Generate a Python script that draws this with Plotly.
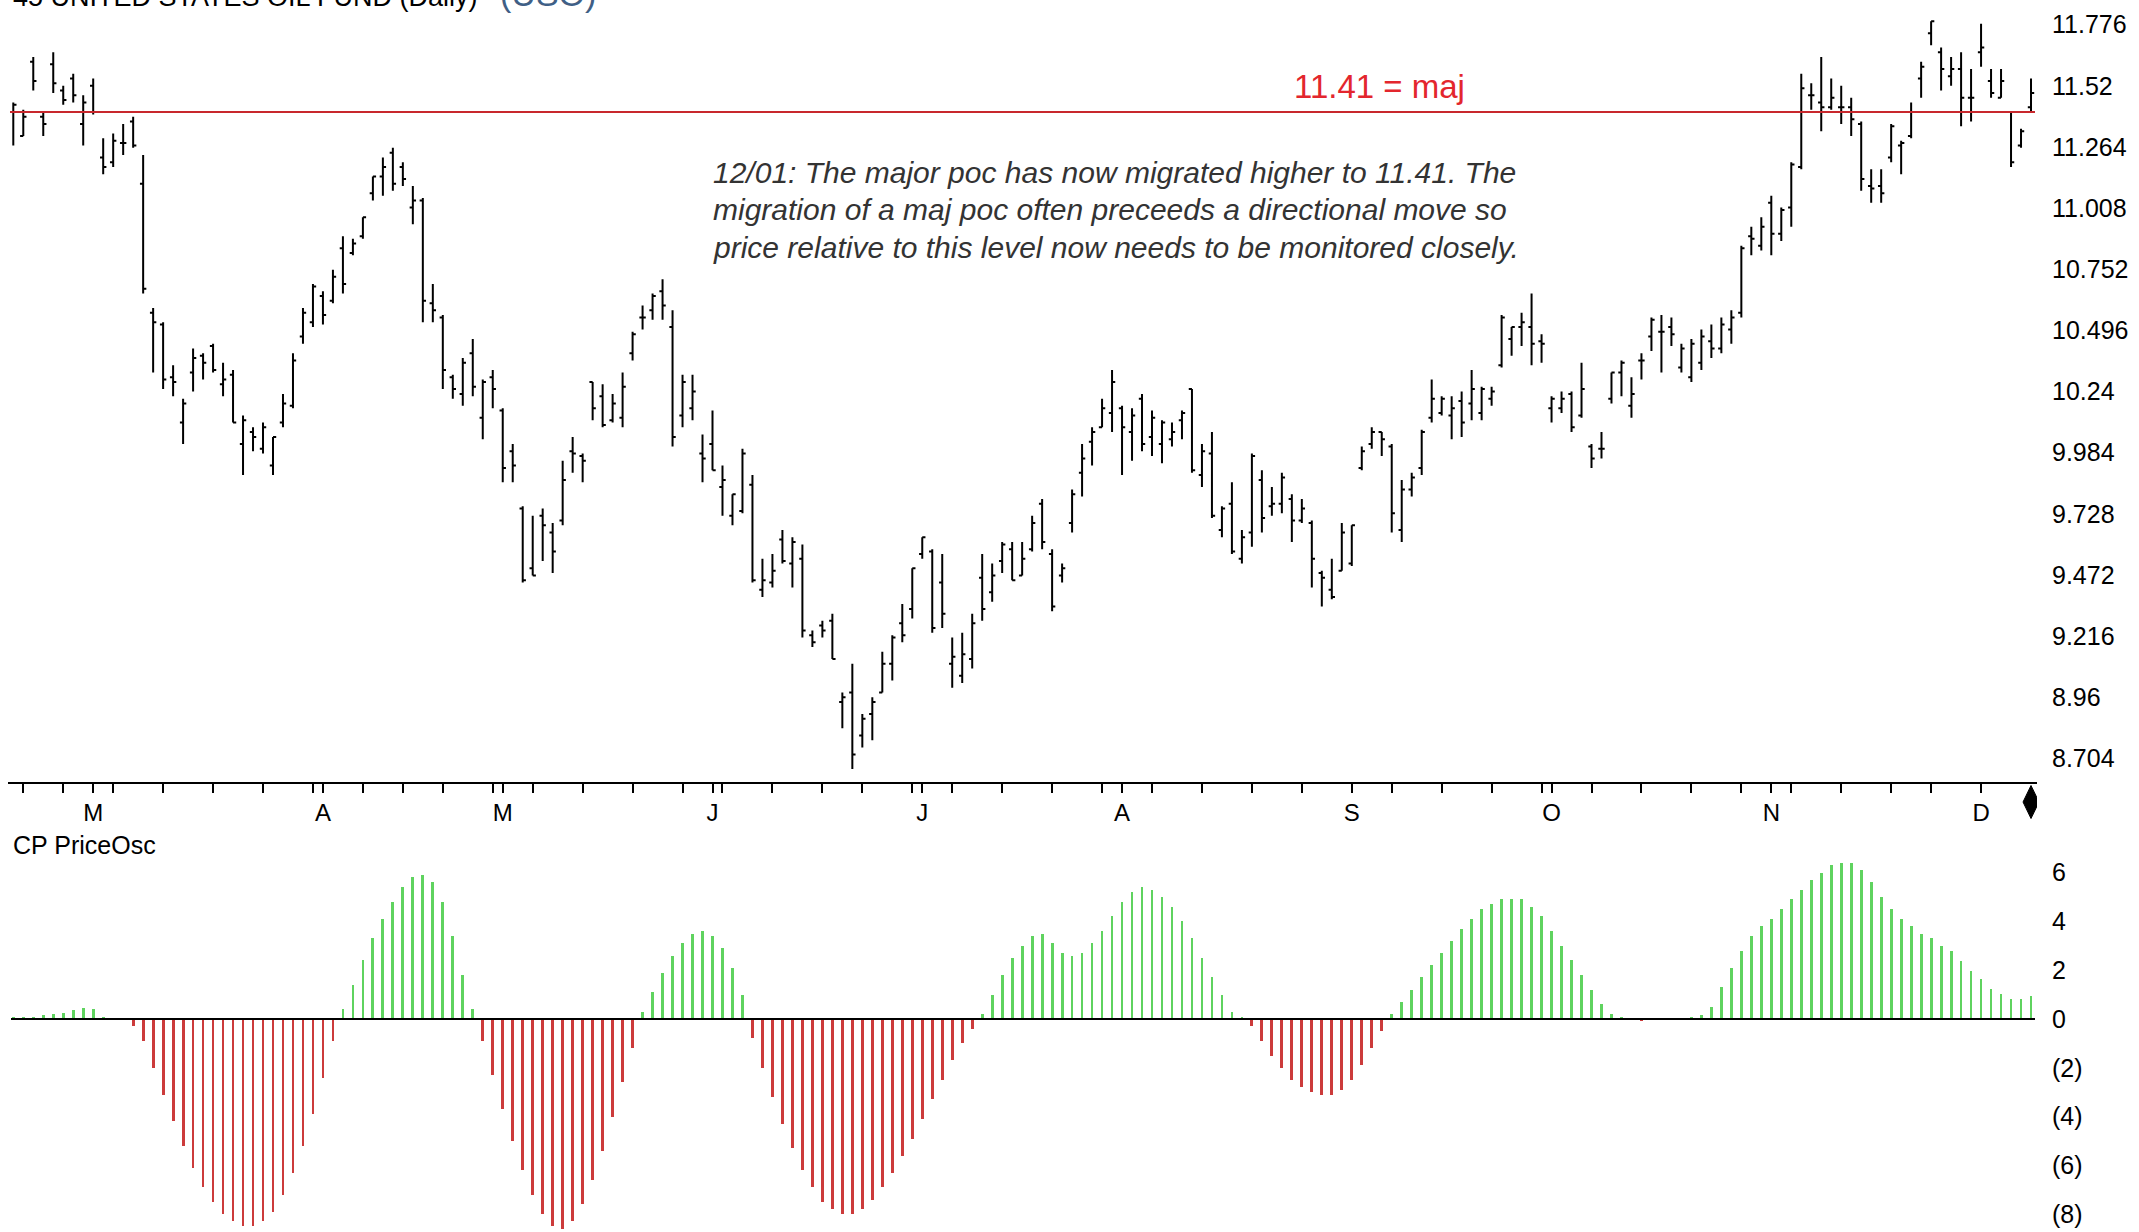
import plotly.graph_objects as go

# ---------------- data ----------------
opens = [11.41,11.31,11.62,11.39,11.61,11.50,11.55,11.36,11.52,11.22,
         11.20,11.28,11.37,11.11,10.57,10.52,10.30,10.11,10.32,10.39,
         10.43,10.27,10.31,10.02,10.07,10.00,9.93,10.11,10.18,10.47,
         10.53,10.64,10.62,10.84,10.82,10.89,11.07,11.14,11.24,11.18,
         11.01,11.04,10.61,10.55,10.30,10.23,10.40,10.13,10.30,10.16,
         9.99,9.75,9.50,9.72,9.65,9.70,9.99,9.97,10.28,10.22,
         10.12,10.13,10.40,10.55,10.58,10.66,10.51,10.14,10.17,9.98,
         10.02,9.84,9.72,9.74,9.85,9.41,9.44,9.62,9.52,9.54,
         9.22,9.26,9.28,8.94,8.98,8.80,8.89,8.98,9.10,9.27,
         9.33,9.56,9.57,9.44,9.10,9.05,9.12,9.46,9.40,9.53,
         9.58,9.47,9.58,9.77,9.56,9.47,9.69,9.90,10.03,10.09,
         10.15,10.17,10.07,10.21,10.05,10.02,10.04,10.12,10.25,9.89,
         9.98,9.66,9.77,9.54,9.65,9.87,9.76,9.77,9.79,9.70,
         9.69,9.48,9.41,9.49,9.52,9.92,10.02,10.07,10.01,9.66,
         9.83,9.92,10.13,10.15,10.14,10.20,10.19,10.15,10.21,10.35,
         10.46,10.51,10.51,10.45,10.17,10.17,10.23,10.14,10.01,10.00,
         10.21,10.32,10.18,10.37,10.47,10.49,10.51,10.34,10.30,
         10.36,10.45,10.42,10.50,
         10.57,10.89,10.85,11.03,10.90,11.01,11.18,11.48,11.45,11.43,
         11.43,11.43,11.36,11.10,11.10,11.22,11.27,11.31,11.55,11.74,
         11.66,11.56,11.59,11.47,11.66,11.54,11.47,11.41,11.27,11.43]

highs = [11.45,11.42,11.64,11.41,11.66,11.52,11.57,11.48,11.55,11.30,
         11.32,11.36,11.39,11.23,10.59,10.53,10.35,10.21,10.42,10.40,
         10.44,10.36,10.33,10.14,10.09,10.11,10.05,10.23,10.40,10.59,
         10.69,10.66,10.75,10.89,10.88,10.97,11.14,11.22,11.26,11.20,
         11.10,11.05,10.69,10.56,10.31,10.38,10.46,10.29,10.33,10.17,
         10.02,9.76,9.72,9.75,9.69,9.95,10.05,9.98,10.28,10.27,
         10.23,10.32,10.49,10.60,10.65,10.71,10.58,10.31,10.31,10.06,
         10.16,9.93,9.81,10.00,9.89,9.54,9.56,9.66,9.63,9.60,
         9.24,9.28,9.31,8.98,9.10,8.89,8.96,9.15,9.22,9.35,
         9.50,9.63,9.58,9.56,9.21,9.23,9.31,9.56,9.52,9.61,
         9.61,9.61,9.72,9.79,9.58,9.52,9.83,10.02,10.09,10.21,
         10.33,10.18,10.17,10.23,10.16,10.12,10.11,10.16,10.25,10.02,
         10.07,9.76,9.86,9.66,9.98,9.91,9.84,9.90,9.81,9.79,
         9.70,9.49,9.54,9.69,9.68,10.01,10.09,10.07,10.02,9.87,
         9.90,10.08,10.29,10.22,10.22,10.24,10.33,10.26,10.26,10.56,
         10.51,10.57,10.65,10.48,10.22,10.24,10.24,10.36,10.02,10.07,
         10.32,10.37,10.30,10.40,10.55,10.56,10.55,10.44,10.46,
         10.50,10.52,10.55,10.58,
         10.85,10.93,10.97,11.06,11.01,11.20,11.57,11.53,11.64,11.55,
         11.52,11.47,11.37,11.17,11.17,11.36,11.29,11.45,11.62,11.79,
         11.68,11.64,11.66,11.59,11.78,11.59,11.59,11.41,11.34,11.55]

lows = [11.27,11.31,11.50,11.31,11.49,11.44,11.45,11.27,11.40,11.15,
        11.18,11.23,11.26,10.65,10.32,10.25,10.22,10.02,10.24,10.29,
        10.32,10.22,10.11,9.89,9.99,9.98,9.89,10.09,10.17,10.44,
        10.51,10.52,10.61,10.65,10.81,10.88,11.04,11.06,11.08,11.10,
        10.94,10.53,10.53,10.25,10.21,10.18,10.22,10.04,10.17,9.86,
        9.86,9.44,9.47,9.53,9.48,9.68,9.90,9.86,10.12,10.09,
        10.11,10.09,10.37,10.50,10.54,10.54,10.01,10.09,10.12,9.86,
        9.91,9.72,9.68,9.73,9.44,9.38,9.42,9.52,9.42,9.21,
        9.17,9.21,9.12,8.83,8.66,8.75,8.78,8.98,9.03,9.19,
        9.29,9.54,9.23,9.25,9.00,9.02,9.08,9.28,9.36,9.48,
        9.45,9.47,9.57,9.58,9.32,9.44,9.65,9.80,9.93,10.09,
        10.07,9.89,9.95,9.99,9.97,9.94,10.01,10.04,9.90,9.84,
        9.71,9.63,9.56,9.52,9.59,9.65,9.72,9.73,9.61,9.69,
        9.42,9.34,9.37,9.49,9.51,9.91,10.00,9.97,9.65,9.61,
        9.80,9.89,10.11,10.14,10.04,10.05,10.12,10.12,10.18,10.34,
        10.39,10.43,10.35,10.36,10.11,10.15,10.07,10.13,9.92,9.96,
        10.19,10.22,10.13,10.29,10.41,10.32,10.43,10.32,10.28,
        10.33,10.38,10.40,10.44,
        10.55,10.81,10.83,10.81,10.87,10.93,11.17,11.42,11.33,11.42,
        11.36,11.31,11.08,11.03,11.03,11.20,11.15,11.30,11.47,11.69,
        11.50,11.52,11.35,11.37,11.60,11.47,11.47,11.18,11.26,11.41]

closes = [11.44,11.39,11.54,11.36,11.53,11.46,11.48,11.45,11.41,11.18,
          11.29,11.28,11.27,10.67,10.53,10.29,10.28,10.19,10.38,10.36,
          10.33,10.29,10.11,10.12,10.05,10.09,10.05,10.19,10.37,10.57,
          10.68,10.56,10.72,10.69,10.86,10.97,11.14,11.18,11.11,11.13,
          11.04,10.62,10.58,10.33,10.25,10.36,10.26,10.28,10.25,9.92,
          9.93,9.45,9.47,9.68,9.57,9.87,9.98,9.95,10.17,10.10,
          10.19,10.26,10.48,10.55,10.64,10.60,10.05,10.28,10.24,9.96,
          9.91,9.87,9.81,9.98,9.45,9.45,9.49,9.53,9.61,9.24,
          9.19,9.24,9.12,8.96,8.72,8.87,8.94,9.10,9.21,9.22,
          9.50,9.63,9.25,9.31,9.13,9.14,9.27,9.33,9.47,9.60,
          9.45,9.54,9.69,9.61,9.34,9.50,9.81,9.96,10.07,10.17,
          10.28,10.09,10.14,10.02,10.13,10.11,10.07,10.15,9.91,9.99,
          9.72,9.75,9.57,9.63,9.97,9.71,9.77,9.88,9.70,9.75,
          9.54,9.46,9.38,9.65,9.68,9.99,10.07,10.04,9.73,9.83,
          9.88,10.07,10.21,10.21,10.17,10.11,10.25,10.25,10.24,10.55,
          10.51,10.53,10.44,10.44,10.21,10.21,10.09,10.25,9.96,10.00,
          10.32,10.36,10.23,10.37,10.54,10.49,10.48,10.42,10.44,
          10.47,10.42,10.52,10.55,
          10.84,10.88,10.93,10.90,11.00,11.19,11.51,11.48,11.43,11.47,
          11.43,11.38,11.13,11.09,11.07,11.35,11.28,11.41,11.60,11.79,
          11.59,11.59,11.47,11.47,11.68,11.49,11.54,11.20,11.33,11.49]

osc = [0.05,0.1,0.1,0.15,0.2,0.25,0.35,0.45,0.4,
       0.1,0.0,0.0,-0.3,
       -0.9,-2.0,-3.1,-4.2,-5.2,-6.1,-6.9,-7.5,-8.0,-8.3,-8.5,-8.5,-8.3,-7.9,-7.2,-6.3,-5.2,-3.9,-2.4,-0.9,
       0.4,1.4,2.4,3.3,4.1,4.8,5.4,5.8,5.9,5.6,4.8,3.4,1.8,0.4,
       -0.9,-2.3,-3.7,-5.0,-6.2,-7.2,-8.0,-8.5,-8.6,-8.3,-7.6,-6.6,-5.4,-4.0,-2.6,-1.2,
       0.3,1.1,1.9,2.6,3.1,3.5,3.6,3.4,2.9,2.1,1.0,
       -0.8,-2.0,-3.2,-4.3,-5.3,-6.2,-6.9,-7.5,-7.8,-8.0,-8.0,-7.8,-7.4,-6.9,-6.3,-5.6,-4.9,-4.1,-3.3,-2.5,-1.7,-1.0,-0.4,
       0.2,1.0,1.8,2.5,3.0,3.4,3.5,3.1,2.7,2.6,2.7,3.1,3.6,4.2,4.8,5.2,5.4,5.3,5.0,4.6,4.0,3.3,2.5,1.7,1.0,0.3,
       0.05,-0.3,-0.9,-1.5,-2.0,-2.5,-2.8,-3.0,-3.1,-3.1,-2.9,-2.5,-1.9,-1.2,-0.5,
       0.2,0.7,1.2,1.7,2.2,2.7,3.2,3.7,4.1,4.5,4.7,4.9,4.9,4.9,4.6,4.2,3.6,3.0,2.4,1.8,1.2,0.6,0.2,
       0.05,-0.05,-0.1,-0.05,0.0,0.0,0.0,0.05,0.15,
       0.5,1.3,2.1,2.8,3.4,3.8,4.1,4.5,4.9,5.3,5.7,6.0,6.3,6.4,6.4,6.1,5.6,5.0,4.5,4.1,3.8,3.5,3.3,3.0,2.8,
       2.36,1.95,1.64,1.23,1.02,0.82,0.82,0.93]

bar_index = list(range(len(opens)))

price_tick_vals = [8.704, 8.96, 9.216, 9.472, 9.728, 9.984, 10.24, 10.496, 10.752, 11.008, 11.264, 11.52, 11.776]
price_tick_text = ["8.704", "8.96", "9.216", "9.472", "9.728", "9.984", "10.24", "10.496", "10.752", "11.008", "11.264", "11.52", "11.776"]
osc_tick_vals = [6, 4, 2, 0, -2, -4, -6, -8]
osc_tick_text = ["6", "4", "2", "0", "(2)", "(4)", "(6)", "(8)"]

month_ticks = [8, 31, 49, 70, 91, 111, 134, 154, 176, 197]
month_labels = ["M", "A", "M", "J", "J", "A", "S", "O", "N", "D"]
week_ticks = [1, 5, 10, 15, 20, 25, 30, 35, 39, 43, 48, 52, 57, 62, 67, 71, 76, 81, 85, 90, 94,
              99, 104, 109, 114, 119, 124, 129, 134, 138, 143, 148, 153, 158, 163, 168, 173, 178,
              183, 188, 192, 197]

poc_level = 11.41
note_lines = ["12/01: The major poc has now migrated higher to 11.41. The",
              "migration of a maj poc often preceeds a directional move so",
              "price relative to this level now needs to be monitored closely."]

n = len(opens)
for arr in (highs, lows, closes, osc):
    if len(arr) != n:
        raise ValueError("length mismatch %d vs %d" % (len(arr), n))

# ---------------- figure ----------------
tick_pos = sorted(set(week_ticks) | set(month_ticks))
tick_txt = [month_labels[month_ticks.index(t)] if t in month_ticks else "" for t in tick_pos]

FONT = "Liberation Sans, Arial, sans-serif"
xr = [-0.53, n - 1 + 0.6]
W, H = 2139, 1232

fig = go.Figure()
fig.add_trace(go.Ohlc(
    x=bar_index, open=opens, high=highs, low=lows, close=closes,
    increasing=dict(line=dict(color="black", width=2)),
    decreasing=dict(line=dict(color="black", width=2)),
    tickwidth=0.32, xaxis="x", yaxis="y", hoverinfo="skip"))

fig.add_trace(go.Bar(
    x=bar_index, y=osc, width=0.28,
    marker=dict(color=["#5fd35f" if v >= 0 else "#cc3b3b" for v in osc], line=dict(width=0)),
    xaxis="x2", yaxis="y2", hoverinfo="skip"))

fig.update_layout(
    width=W, height=H,
    margin=dict(l=8, r=102, t=0, b=0),
    paper_bgcolor="white", plot_bgcolor="white",
    showlegend=False, bargap=0,
    font=dict(family=FONT, color="black"),
    xaxis=dict(domain=[0, 1], range=xr, anchor="y",
               tickmode="array", tickvals=tick_pos, ticktext=tick_txt,
               ticks="outside", ticklen=9, tickwidth=2, tickcolor="black",
               showline=True, linecolor="black", linewidth=2,
               showgrid=False, zeroline=False,
               rangeslider=dict(visible=False),
               tickfont=dict(family=FONT, size=24, color="black"),
               ticklabelstandoff=0),
    yaxis=dict(domain=[0.3656, 1], range=[8.607, 11.879], side="right", anchor="x",
               tickmode="array", tickvals=price_tick_vals, ticktext=price_tick_text,
               ticks="", showgrid=False, zeroline=False, showline=False,
               tickfont=dict(family=FONT, size=25, color="black"),
               ticklabelstandoff=14),
    xaxis2=dict(domain=[0, 1], range=xr, anchor="y2", matches="x",
                showticklabels=False, ticks="", showline=False, showgrid=False, zeroline=False),
    yaxis2=dict(domain=[0, 0.3141], range=[-8.73, 7.13], side="right", anchor="x2",
                tickmode="array", tickvals=osc_tick_vals, ticktext=osc_tick_text,
                ticks="", showgrid=False, zeroline=False, showline=False,
                tickfont=dict(family=FONT, size=25, color="black"),
                ticklabelstandoff=14),
)

# major poc line and oscillator zero line
fig.add_shape(type="line", xref="x", yref="y", x0=xr[0] + 0.2, x1=xr[1] - 0.2,
              y0=poc_level, y1=poc_level, line=dict(color="#c8282d", width=2))
fig.add_shape(type="line", xref="x2", yref="y2", x0=xr[0] + 0.3, x1=xr[1] - 0.2,
              y0=0, y1=0, line=dict(color="black", width=2))

# end-of-data diamond under the last bar (drawn on the axis label row)
last = bar_index[-1]
cy = 1 - 802 / H
dy = 16.5 / H
fig.add_shape(type="path", xref="x", yref="paper",
              path="M %s,%s L %s,%s L %s,%s L %s,%s Z" % (last, cy + dy, last + 0.8, cy, last, cy - dy, last - 0.8, cy),
              fillcolor="black", line=dict(color="black", width=1))

fig.add_annotation(xref="paper", yref="paper", x=0.676, y=0.930,
                   xanchor="center", yanchor="middle", showarrow=False,
                   text="%.2f = maj" % poc_level,
                   font=dict(family=FONT, size=33, color="#e3262d"))

for line_text, ypx in zip(note_lines, [172, 210, 247]):
    fig.add_annotation(xref="paper", yref="paper", x=0.3465, y=1 - ypx / H,
                       xanchor="left", yanchor="middle", align="left", showarrow=False,
                       text="<i>%s</i>" % line_text,
                       font=dict(family=FONT, size=30, color="#333333"))

fig.add_annotation(xref="paper", yref="paper", x=0.0015, y=0.3141,
                   xanchor="left", yanchor="middle", showarrow=False,
                   text="CP PriceOsc", font=dict(family=FONT, size=25, color="black"))

fig.add_annotation(xref="paper", yref="paper", x=0.0015, y=1, yshift=3,
                   xanchor="left", yanchor="middle", showarrow=False,
                   text="45 UNITED STATES OIL FUND (Daily)",
                   font=dict(family=FONT, size=27, color="black"))
fig.add_annotation(xref="paper", yref="paper", x=0.2415, y=1, yshift=6,
                   xanchor="left", yanchor="middle", showarrow=False,
                   text="(USO)", font=dict(family=FONT, size=34, color="#3f5f86"))

fig.write_html("out.html",
               config={"displayModeBar": False},
               post_script="document.body.style.margin='0';document.body.style.overflow='hidden';")
